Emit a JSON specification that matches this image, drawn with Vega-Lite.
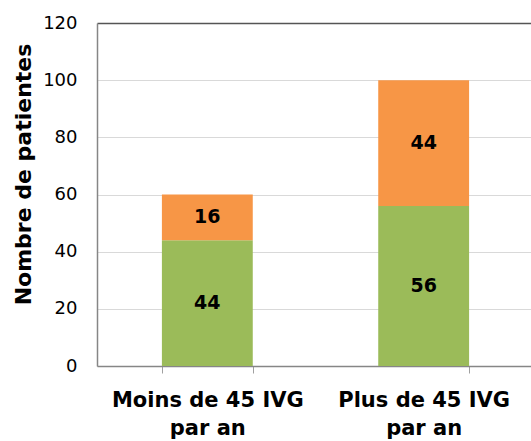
{
  "$schema": "https://vega.github.io/schema/vega-lite/v6.json",
  "autosize": {"type": "none"},
  "padding": {"left": 97, "top": 23, "right": 0, "bottom": 75},
  "width": 437,
  "height": 343,
  "background": "white",
  "config": {
    "font": "DejaVu Sans",
    "view": {"stroke": null, "strokeWidth": 0}
  },
  "data": {
    "values": [
      {"categorie": "Moins de 45 IVG|par an", "groupe": "A", "ordre": 1, "nombre": 44},
      {"categorie": "Moins de 45 IVG|par an", "groupe": "B", "ordre": 2, "nombre": 16},
      {"categorie": "Plus de 45 IVG|par an", "groupe": "A", "ordre": 1, "nombre": 56},
      {"categorie": "Plus de 45 IVG|par an", "groupe": "B", "ordre": 2, "nombre": 44}
    ]
  },
  "transform": [
    {"stack": "nombre", "groupby": ["categorie"], "sort": [{"field": "ordre"}], "as": ["bas", "haut"]},
    {"calculate": "(datum.bas + datum.haut) / 2", "as": "milieu"}
  ],
  "encoding": {
    "x": {
      "field": "categorie",
      "type": "nominal",
      "sort": null,
      "scale": {"paddingInner": 0.58, "paddingOuter": 0.3},
      "axis": {
        "title": null,
        "labelAngle": 0,
        "labelExpr": "datum.value ? split(datum.value, '|') : ''",
        "labelLimit": 0,
        "labelFont": "DejaVu Sans",
        "labelFontSize": 21,
        "labelFontWeight": "bold",
        "labelColor": "#000000",
        "labelLineHeight": 28,
        "labelPadding": 16,
        "labelBaseline": "top",
        "domainColor": "#868686",
        "domainWidth": 1.5,
        "tickColor": "#A0A0A0",
        "tickSize": 7,
        "tickBand": "extent",
        "grid": false
      }
    }
  },
  "layer": [
    {
      "mark": {"type": "bar"},
      "encoding": {
        "y": {
          "field": "haut",
          "type": "quantitative",
          "scale": {"domain": [0, 120], "nice": false},
          "axis": {
            "values": [0, 20, 40, 60, 80, 100, 120],
            "title": "Nombre de patientes",
            "titleFont": "DejaVu Sans",
            "titleFontSize": 22,
            "titleFontWeight": "bold",
            "titleColor": "#000000",
            "titleX": -67,
            "titleY": 151,
            "titleAngle": 270,
            "titleAlign": "center",
            "titleBaseline": "alphabetic",
            "labelFont": "DejaVu Sans",
            "labelFontSize": 18,
            "labelColor": "#000000",
            "labelPadding": 20,
            "ticks": false,
            "domainColor": "#868686",
            "domainWidth": 1.5,
            "grid": true,
            "gridColor": {"condition": {"test": "datum.value == 120", "value": "#555555"}, "value": "#D9D9D9"},
            "gridWidth": {"condition": {"test": "datum.value == 120", "value": 1.5}, "value": 1}
          }
        },
        "y2": {"field": "bas"},
        "color": {
          "field": "groupe",
          "type": "nominal",
          "scale": {"domain": ["A", "B"], "range": ["#9BBB59", "#F79646"]},
          "legend": null
        }
      }
    },
    {
      "mark": {"type": "text", "fontSize": 19, "fontWeight": "bold", "color": "#000000", "baseline": "middle", "font": "DejaVu Sans"},
      "encoding": {
        "y": {"field": "milieu", "type": "quantitative"},
        "text": {"field": "nombre", "type": "quantitative"}
      }
    }
  ]
}
